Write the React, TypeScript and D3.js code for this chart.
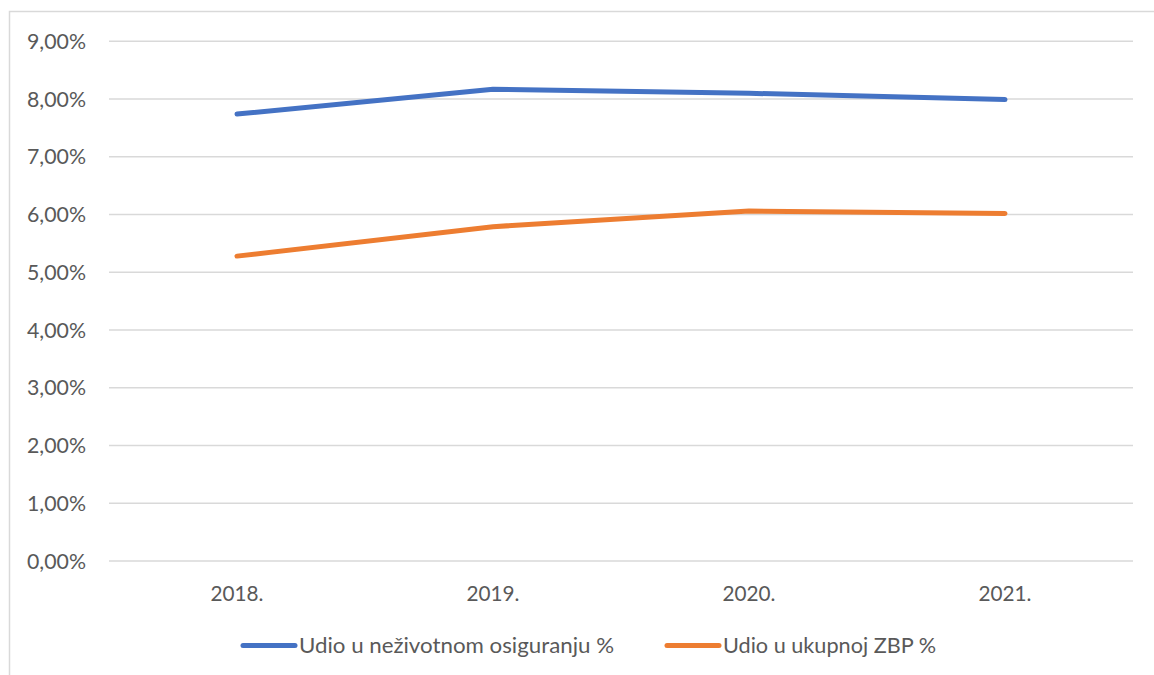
import React from "react";
import * as d3 from "d3";

const categories = ["2018.", "2019.", "2020.", "2021."];
const seriesNames = ["Udio u neživotnom osiguranju %", "Udio u ukupnoj ZBP %"];
const nezivotno = [7.74, 8.17, 8.1, 7.99];
const ukupnoZBP = [5.28, 5.79, 6.06, 6.02];
const yTicks = [0, 1, 2, 3, 4, 5, 6, 7, 8, 9];
const colors = ["#4472C4", "#ED7D31"];

export default function App() {
  const W = 1154, H = 675;
  const left = 109, right = 1133, top = 41.3, bottom = 561;
  const x = d3.scaleBand<string>().domain(categories).range([left, right]);
  const y = d3.scaleLinear().domain([0, 9]).range([bottom, top]);
  const line = d3
    .line<number>()
    .x((_, i) => (x(categories[i]) as number) + x.bandwidth() / 2)
    .y((d) => y(d));
  const series = [nezivotno, ukupnoZBP];
  const font = "Lato, 'Open Sans', sans-serif";
  const fmt = (v: number) => v.toFixed(2).replace(".", ",") + "%";
  const legend = [
    { x1: 243, x2: 295, tx: 299, w: 315 },
    { x1: 667, x2: 719, tx: 723, w: 213 },
  ];
  return (
    <svg width={W} height={H} style={{ position: "absolute", left: 0, top: 0, background: "#fff" }} fontFamily={font}>
      <rect x={9.5} y={11.5} width={1200} height={700} fill="#fff" stroke="#d9d9d9" strokeWidth={1.5} />
      {yTicks.map((t) => (
        <g key={t}>
          <line x1={left} x2={right} y1={y(t)} y2={y(t)} stroke="#d9d9d9" strokeWidth={1.5} />
          <text x={27} y={y(t) + 7.5} textLength={59} lengthAdjust="spacingAndGlyphs" fontSize={21} fill="#595959">
            {fmt(t)}
          </text>
        </g>
      ))}
      {categories.map((c) => (
        <text
          key={c}
          x={(x(c) as number) + x.bandwidth() / 2 - 26.5}
          y={601}
          textLength={53}
          lengthAdjust="spacingAndGlyphs"
          fontSize={21}
          fill="#595959"
        >
          {c}
        </text>
      ))}
      {series.map((s, i) => (
        <path key={i} d={line(s) || ""} fill="none" stroke={colors[i]} strokeWidth={5} strokeLinecap="round" strokeLinejoin="round" />
      ))}
      {legend.map((l, i) => (
        <g key={i}>
          <line x1={l.x1} x2={l.x2} y1={645.5} y2={645.5} stroke={colors[i]} strokeWidth={5} strokeLinecap="round" />
          <text x={l.tx} y={653} textLength={l.w} lengthAdjust="spacingAndGlyphs" fontSize={21} fill="#595959">
            {seriesNames[i]}
          </text>
        </g>
      ))}
    </svg>
  );
}
